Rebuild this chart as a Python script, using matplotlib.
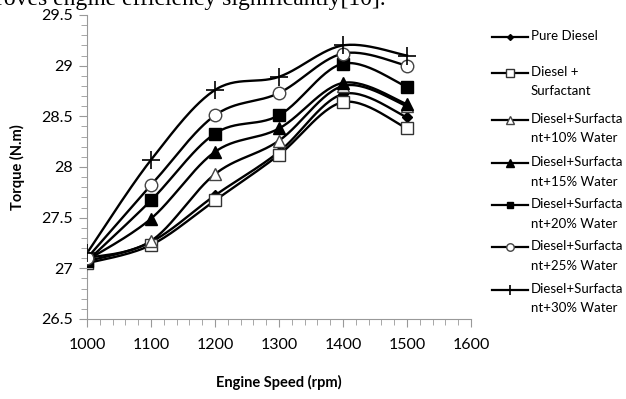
import matplotlib.pyplot as plt
import numpy as np
from matplotlib.lines import Line2D
from matplotlib.ticker import MultipleLocator

# Engine speed (rpm) and torque (N.m) for each fuel blend
speed = [1000, 1100, 1200, 1300, 1400, 1500]
pure_diesel = [27.07, 27.26, 27.72, 28.15, 28.72, 28.49]
surfactant = [27.05, 27.23, 27.67, 28.12, 28.64, 28.38]
water_10 = [27.10, 27.27, 27.93, 28.26, 28.80, 28.60]
water_15 = [27.08, 27.49, 28.15, 28.38, 28.83, 28.62]
water_20 = [27.07, 27.67, 28.33, 28.51, 29.02, 28.79]
water_25 = [27.10, 27.82, 28.51, 28.73, 29.12, 29.00]
water_30 = [27.15, 28.07, 28.76, 28.89, 29.20, 29.10]

labels = ['Pure Diesel', 'Diesel +\nSurfactant', 'Diesel+Surfacta\nnt+10% Water',
          'Diesel+Surfacta\nnt+15% Water', 'Diesel+Surfacta\nnt+20% Water',
          'Diesel+Surfacta\nnt+25% Water', 'Diesel+Surfacta\nnt+30% Water']
series = [pure_diesel, surfactant, water_10, water_15, water_20, water_25, water_30]

styles = [
    dict(marker='D', ms=5, mfc='black', mec='black'),
    dict(marker='s', ms=9, mfc='white', mec='#333333'),
    dict(marker='^', ms=9, mfc='white', mec='#444444'),
    dict(marker='^', ms=9, mfc='black', mec='black'),
    dict(marker='s', ms=8, mfc='black', mec='black'),
    dict(marker='o', ms=9, mfc='white', mec='#444444'),
    dict(marker='+', ms=13, mfc='black', mec='black', mew=1.2),
]


def smooth(x, y, n=30):
    # Excel-like smoothed line: Catmull-Rom segments as cubic Bezier
    x = np.asarray(x, float)
    y = np.asarray(y, float)
    px = np.concatenate([[x[0]], x, [x[-1]]])
    py = np.concatenate([[y[0]], y, [y[-1]]])
    t = np.linspace(0, 1, n)
    xs, ys = [], []
    for i in range(1, len(px) - 2):
        p0 = np.array([px[i], py[i]])
        p3 = np.array([px[i + 1], py[i + 1]])
        c1 = p0 + (np.array([px[i + 1], py[i + 1]]) - np.array([px[i - 1], py[i - 1]])) / 6
        c2 = p3 - (np.array([px[i + 2], py[i + 2]]) - np.array([px[i], py[i]])) / 6
        b = ((1 - t) ** 3)[:, None] * p0 + (3 * (1 - t) ** 2 * t)[:, None] * c1 \
            + (3 * (1 - t) * t ** 2)[:, None] * c2 + (t ** 3)[:, None] * p3
        xs.append(b[:, 0])
        ys.append(b[:, 1])
    return np.concatenate(xs), np.concatenate(ys)


plt.rcParams['font.family'] = ['Lato', 'DejaVu Sans']

fig = plt.figure(figsize=(6.26, 3.99), dpi=100)
ax = fig.add_axes([87 / 626, 1 - 319 / 399, 384 / 626, 304 / 399])

for vals, st in zip(series, styles):
    sx, sy = smooth(speed, vals)
    ax.plot(sx, sy, color='black', lw=1.7, zorder=2)
    ax.plot(speed, vals, linestyle='none', zorder=3, **st)

ax.set_xlim(1000, 1600)
ax.set_ylim(26.5, 29.5)
ax.xaxis.set_major_locator(MultipleLocator(100))
ax.xaxis.set_minor_locator(MultipleLocator(20))
ax.yaxis.set_major_locator(MultipleLocator(0.5))
ax.yaxis.set_minor_locator(MultipleLocator(0.1))
ax.yaxis.set_major_formatter(plt.FuncFormatter(lambda v, p: f'{v:g}'))

for side in ['top', 'right']:
    ax.spines[side].set_visible(False)
for side in ['left', 'bottom']:
    ax.spines[side].set_color('#999999')
ax.tick_params(which='major', length=6, color='#999999', labelsize=11.5, pad=4)
ax.tick_params(which='minor', length=4, color='#999999')
ax.tick_params(axis='x', pad=8)

ax.set_xlabel('Engine Speed (rpm)', fontsize=10.5, fontweight='bold', labelpad=16)
ax.set_ylabel('Torque (N.m)', fontsize=10.5, fontweight='bold', labelpad=12)

# manual legend to the right of the plot
leg_y = [37, 73, 120, 163, 205, 247, 290]
for yy, lab, st in zip(leg_y, labels, styles):
    fy = 1 - yy / 399
    small = dict(st)
    small['ms'] = st['ms'] * 0.6
    fig.add_artist(Line2D([492 / 626, 510 / 626, 528 / 626], [fy, fy, fy], color='black',
                          lw=1.6, markevery=[1], transform=fig.transFigure, **small))
    fig.text(531 / 626, fy + 7 / 399, lab, fontsize=9.5, va='top', ha='left',
             linespacing=1.75)

# text of the surrounding document, cut at the top edge
fig.text(-4 / 626, 1 - 5 / 399, 'roves engine efficiency significantly[10].',
         family='Liberation Serif', fontsize=17, va='baseline', ha='left')

fig.savefig('out.png', dpi=100)
